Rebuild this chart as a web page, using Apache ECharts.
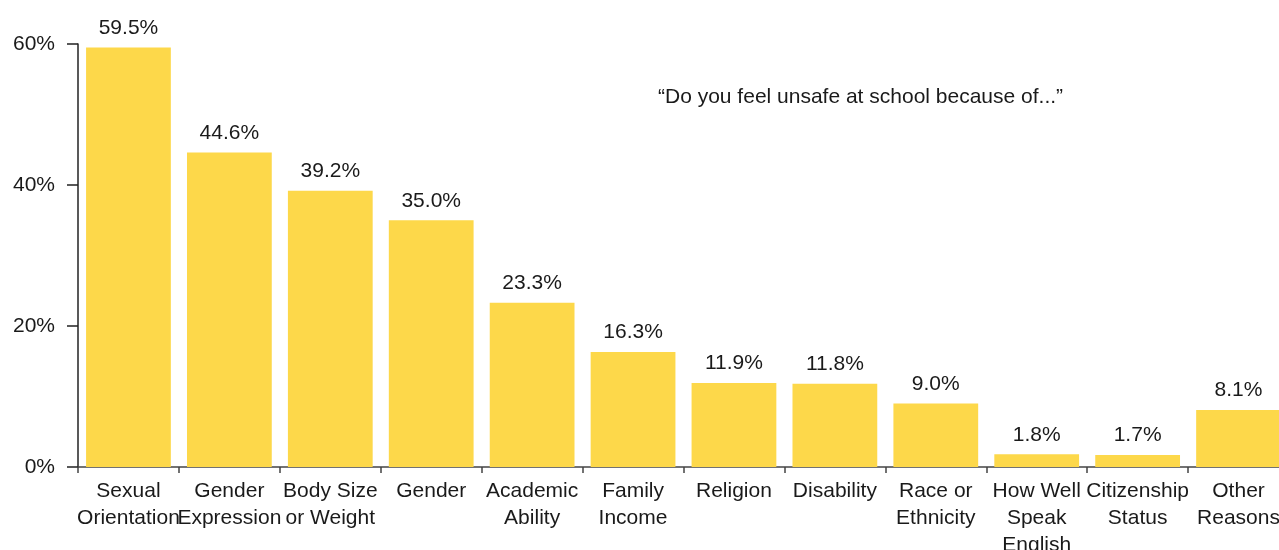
<!DOCTYPE html>
<html><head><meta charset="utf-8">
<script src="https://cdn.jsdelivr.net/npm/echarts@6/dist/echarts.min.js"></script>
<style>html,body{margin:0;padding:0;background:#fff}#c{width:1279px;height:550px}</style>
</head><body><div id="c"></div>
<script>
const categories = ["Sexual\nOrientation","Gender\nExpression","Body Size\nor Weight","Gender","Academic\nAbility","Family\nIncome","Religion","Disability","Race or\nEthnicity","How Well\nSpeak\nEnglish","Citizenship\nStatus","Other\nReasons"];
const values = [59.5,44.6,39.2,35.0,23.3,16.3,11.9,11.8,9.0,1.8,1.7,8.1];
const yTicks = [0,20,40,60];
const annotation = "\u201cDo you feel unsafe at school because of...\u201d";
const FONT = "Liberation Sans";
const chart = echarts.init(document.getElementById('c'));
chart.setOption({
  animation:false,
  grid:{left:78,right:-10,top:44,bottom:83,containLabel:false,outerBoundsMode:'none'},
  xAxis:{type:'category',data:categories,
    axisLine:{lineStyle:{color:'#444',width:1.5}},
    axisTick:{show:true,alignWithLabel:false,length:6,lineStyle:{color:'#444',width:1.5}},
    axisLabel:{interval:0,color:'#1a1a1a',fontFamily:FONT,fontSize:21,lineHeight:27,margin:11}},
  yAxis:{type:'value',min:0,max:60,interval:20,
    axisLine:{show:true,lineStyle:{color:'#222',width:1.5}},
    axisTick:{show:true,length:11,lineStyle:{color:'#222',width:1.5}},
    splitLine:{show:false},
    axisLabel:{color:'#1a1a1a',fontFamily:FONT,fontSize:21,margin:23,formatter:v=>yTicks.includes(v)?v+'%':''}},
  graphic:[{type:'text',left:658,top:87,style:{text:annotation,fontFamily:FONT,fontSize:21,fill:'#1a1a1a'}}],
  series:[{type:'bar',data:values,barCategoryGap:'16%',
    itemStyle:{color:'#FDD84A'},
    label:{show:true,position:'top',distance:9,color:'#1a1a1a',fontFamily:FONT,fontSize:21,formatter:p=>p.value.toFixed(1)+'%'}}]
});
</script></body></html>
